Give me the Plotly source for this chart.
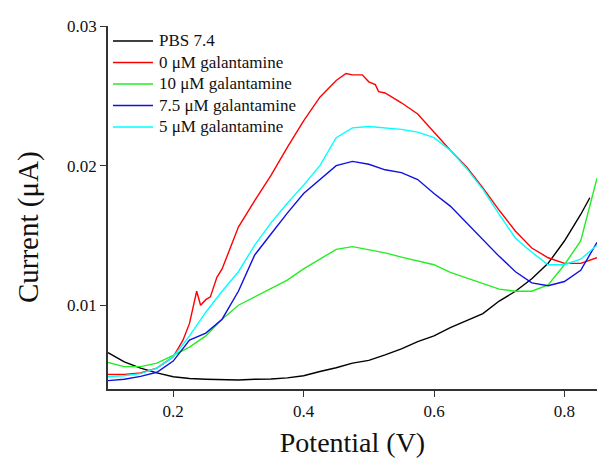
import plotly.graph_objects as go

# Potential grid (V)
potential = [0.100, 0.125, 0.150, 0.175, 0.200, 0.225, 0.250, 0.275, 0.300, 0.325,
             0.350, 0.375, 0.400, 0.425, 0.450, 0.475, 0.500, 0.525, 0.550, 0.575,
             0.600, 0.625, 0.650, 0.675, 0.700, 0.725, 0.750, 0.775, 0.800, 0.825, 0.850]

pbs_potential = potential[:-1] + [0.839]
pbs_current = [0.00660, 0.00595, 0.00550, 0.00515, 0.00488, 0.00475, 0.00470, 0.00465, 0.00465, 0.00470,
               0.00472, 0.00480, 0.00495, 0.00525, 0.00552, 0.00585, 0.00605, 0.00645, 0.00688, 0.00740,
               0.00780, 0.00840, 0.00890, 0.00940, 0.01030, 0.01100, 0.01190, 0.01300, 0.01460, 0.01650, 0.01770]

red_potential = [0.100, 0.125, 0.150, 0.175, 0.200, 0.215, 0.225, 0.236, 0.242, 0.250, 0.257,
                 0.267, 0.275, 0.300, 0.325, 0.350, 0.375, 0.400, 0.425, 0.450, 0.465, 0.475,
                 0.490, 0.500, 0.510, 0.515, 0.525, 0.550, 0.575, 0.600, 0.625, 0.650, 0.675,
                 0.700, 0.725, 0.750, 0.775, 0.800, 0.825, 0.850]
red_current = [0.00505, 0.00505, 0.00515, 0.00550, 0.00630, 0.00750, 0.00870, 0.01100, 0.01000, 0.01040, 0.01060,
               0.01200, 0.01260, 0.01560, 0.01750, 0.01930, 0.02130, 0.02320, 0.02490, 0.02610, 0.02660, 0.02650,
               0.02650, 0.02600, 0.02580, 0.02530, 0.02520, 0.02450, 0.02370, 0.02240, 0.02110, 0.01990, 0.01840,
               0.01680, 0.01530, 0.01410, 0.01340, 0.01300, 0.01300, 0.01340]

green_current = [0.00590, 0.00560, 0.00560, 0.00585, 0.00640, 0.00700, 0.00780, 0.00900, 0.01000, 0.01060,
                 0.01120, 0.01180, 0.01260, 0.01330, 0.01400, 0.01420, 0.01400, 0.01375, 0.01345, 0.01320,
                 0.01290, 0.01235, 0.01195, 0.01150, 0.01115, 0.01100, 0.01100, 0.01145, 0.01290, 0.01460, 0.01910]

blue_current = [0.00460, 0.00470, 0.00490, 0.00520, 0.00600, 0.00750, 0.00800, 0.00900, 0.01100, 0.01360,
                0.01510, 0.01660, 0.01800, 0.01900, 0.02000, 0.02030, 0.02010, 0.01970, 0.01950, 0.01900,
                0.01800, 0.01710, 0.01590, 0.01470, 0.01350, 0.01240, 0.01160, 0.01140, 0.01170, 0.01250, 0.01450]

cyan_current = [0.00490, 0.00495, 0.00510, 0.00550, 0.00630, 0.00780, 0.00950, 0.01100, 0.01240, 0.01430,
                0.01590, 0.01730, 0.01860, 0.02000, 0.02200, 0.02270, 0.02280, 0.02270, 0.02260, 0.02240,
                0.02200, 0.02110, 0.01980, 0.01830, 0.01650, 0.01480, 0.01380, 0.01290, 0.01290, 0.01330, 0.01430]

series_names = ["PBS 7.4", "0 μM galantamine", "10 μM galantamine", "7.5 μM galantamine", "5 μM galantamine"]
series_x = [pbs_potential, red_potential, potential, potential, potential]
series_y = [pbs_current, red_current, green_current, blue_current, cyan_current]
series_colors = ["#000000", "#ff0000", "#22ee22", "#1010e0", "#00ffff"]

x_ticks = [0.2, 0.4, 0.6, 0.8]
y_ticks = [0.01, 0.02, 0.03]

FONT = "Liberation Serif, Times New Roman, serif"

fig = go.Figure()
for name, xs, ys, color in zip(series_names, series_x, series_y, series_colors):
    fig.add_trace(go.Scatter(x=xs, y=ys, mode="lines", name=name, showlegend=False,
                             line=dict(color=color, width=1.4)))

# Legend drawn as line samples + text labels (compact row spacing like the original)
leg_x0, leg_x1, leg_tx = 0.0102, 0.092, 0.1002
leg_top, leg_step = 0.9587, 0.0592
for i, (name, color) in enumerate(zip(series_names, series_colors)):
    yy = leg_top - i * leg_step
    fig.add_shape(type="line", xref="paper", yref="paper", x0=leg_x0, x1=leg_x1, y0=yy, y1=yy,
                  line=dict(color=color, width=1.4))
    fig.add_annotation(xref="paper", yref="paper", x=leg_tx, y=yy, text=name, showarrow=False,
                       xanchor="left", yanchor="middle",
                       font=dict(family=FONT, size=17, color="#111"))

# Y-axis title (placed slightly below the plot centre, as in the original)
fig.add_annotation(xref="paper", yref="paper", x=-0.1636, y=0.446, text="Current (μA)",
                   showarrow=False, textangle=-90, xanchor="center", yanchor="middle",
                   font=dict(family=FONT, size=29, color="#111"))

fig.update_layout(
    width=615, height=464,
    margin=dict(l=108, r=18, t=26, b=75),
    paper_bgcolor="white", plot_bgcolor="white",
    font=dict(family=FONT, size=17, color="#111"),
    showlegend=False,
)
fig.update_xaxes(
    range=[0.1, 0.85], tickvals=x_ticks, ticktext=[f"{v:.1f}" for v in x_ticks],
    showgrid=False, zeroline=False, showline=True, linecolor="#333", linewidth=1.5,
    ticks="outside", ticklen=6, tickwidth=1.2, tickcolor="#333",
    title=dict(text="Potential (V)", font=dict(family=FONT, size=28, color="#111"), standoff=12),
)
fig.update_yaxes(
    range=[0.004, 0.03], tickvals=y_ticks, ticktext=[f"{v:.2f}" for v in y_ticks],
    showgrid=False, zeroline=False, showline=True, linecolor="#333", linewidth=1.5,
    ticks="outside", ticklen=6, tickwidth=1.2, tickcolor="#333",
)

fig.write_html("out.html")
